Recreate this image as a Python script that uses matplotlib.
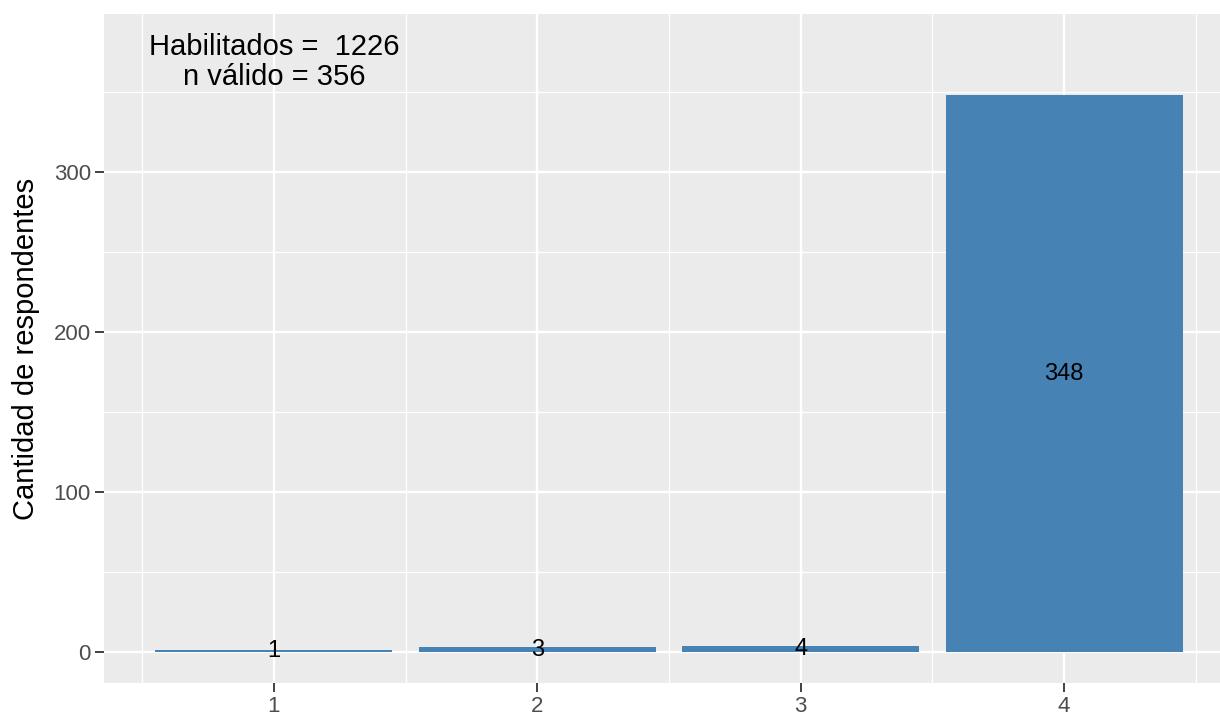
import numpy as np
import matplotlib
matplotlib.use("Agg")
import matplotlib.pyplot as plt
from matplotlib.ticker import MultipleLocator

categories = [1, 2, 3, 4]
counts = [1, 3, 4, 348]
note = "Habilitados =  1226\nn válido = 356"

plt.rcParams['font.family'] = ['Liberation Sans', 'DejaVu Sans']

W, H = 1220, 717
fig = plt.figure(figsize=(W / 100, H / 100), dpi=100)
# panel runs past the right edge of the picture (cropped like the original)
left, right, top, bottom = 104, 1234, 14, 683
ax = fig.add_axes([left / W, 1 - bottom / H, (right - left) / W, (bottom - top) / H])
ax.set_facecolor('#EBEBEB')

ax.set_xlim(0.355, 4.645)
ax.set_ylim(-19.4, 398.8)

ax.xaxis.set_major_locator(MultipleLocator(1))
ax.xaxis.set_minor_locator(MultipleLocator(0.5))
ax.yaxis.set_major_locator(MultipleLocator(100))
ax.yaxis.set_minor_locator(MultipleLocator(50))
ax.grid(which='major', color='white', linewidth=1.7)
ax.grid(which='minor', color='white', linewidth=0.9)
ax.set_axisbelow(True)
for s in ax.spines.values():
    s.set_visible(False)

ax.bar(categories, counts, width=0.9, color='#4682B4', zorder=2)
for x, c in zip(categories, counts):
    ax.text(x, c / 2, str(c), ha='center', va='center', fontsize=17, color='black', zorder=3)

ax.text(1, 369, note, ha='center', va='center', fontsize=21, color='black',
        linespacing=1.1, zorder=3)

ax.set_xticks(categories)
ax.set_xticklabels([str(c) for c in categories])
ax.tick_params(which='major', length=6.5, width=1.3, color='#333333',
               labelsize=16, labelcolor='#4D4D4D', pad=3)
ax.tick_params(which='minor', length=0)
ax.set_ylabel('Cantidad de respondentes', fontsize=21, labelpad=10)

fig.savefig('out.png', dpi=100)
